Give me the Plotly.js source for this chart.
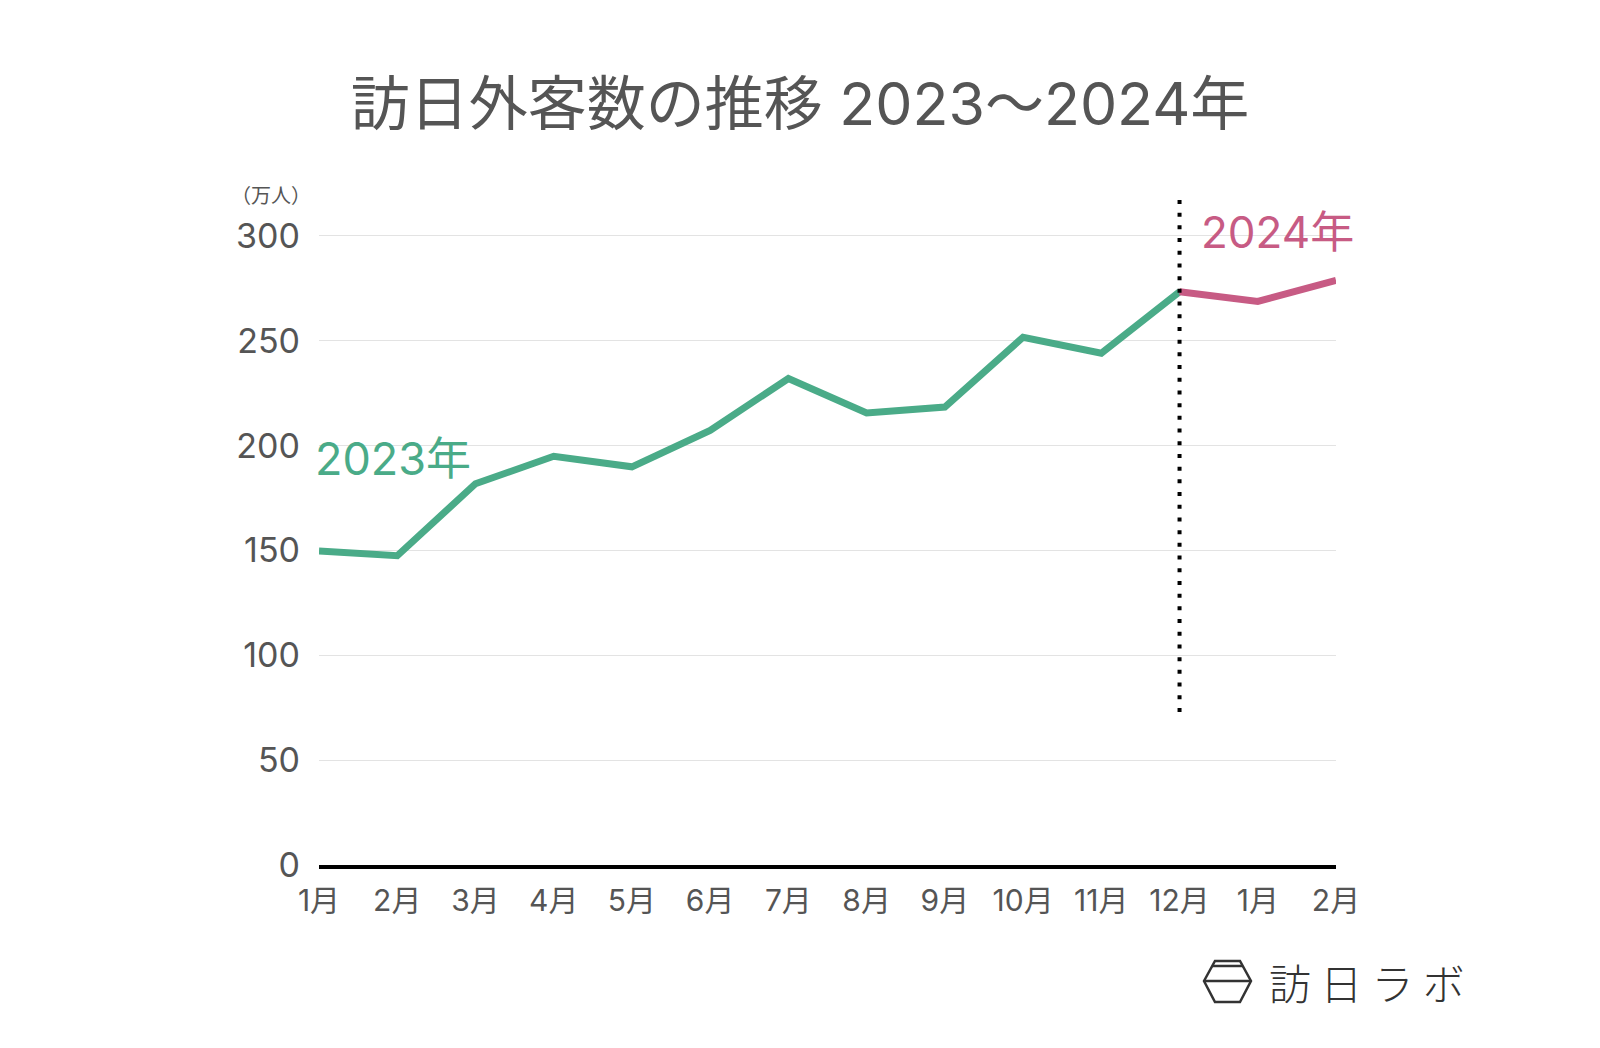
<!DOCTYPE html>
<html>
<head>
<meta charset="utf-8">
<script src="https://cdn.plot.ly/plotly-3.0.1.min.js"></script>
<style>html,body{margin:0;padding:0;background:#fff;}#chart{width:1600px;height:1048px;}</style>
</head>
<body>
<div id="chart"></div>
<script>
// Month tick labels (Jan 2023 .. Feb 2024)
const monthLabels = ["1月","2月","3月","4月","5月","6月","7月","8月","9月","10月","11月","12月","1月","2月"];
// 2023 visitors (万人)
const visitors2023 = [149.7, 147.5, 181.8, 194.9, 189.9, 207.3, 232.0, 215.6, 218.4, 251.7, 244.1, 273.4];
// 2024 visitors (万人), Jan–Feb
const visitors2024 = [268.8, 278.8];
const yTicks = [0, 50, 100, 150, 200, 250, 300];

const FONT = 'Inter, "Noto Sans CJK JP", "Noto Sans", sans-serif';
const CJK = '"Noto Sans CJK JP", sans-serif';
const GREEN = '#4aab88';
const PINK = '#c75b84';
const GRAY = '#555555';

const x2023 = visitors2023.map((_, i) => i);
const last2023 = visitors2023.length - 1;
const x2024 = [last2023].concat(visitors2024.map((_, i) => last2023 + 1 + i));
const y2024 = [visitors2023[last2023]].concat(visitors2024);

const traces = [
  {x: x2023, y: visitors2023, type: 'scatter', mode: 'lines',
   line: {color: GREEN, width: 7}, hoverinfo: 'skip', cliponaxis: false},
  {x: x2024, y: y2024, type: 'scatter', mode: 'lines',
   line: {color: PINK, width: 7}, hoverinfo: 'skip', cliponaxis: false}
];

const layout = {
  width: 1600, height: 1048,
  paper_bgcolor: '#ffffff', plot_bgcolor: '#ffffff',
  margin: {l: 319, r: 264, t: 194, b: 183},
  showlegend: false,
  font: {family: FONT, color: GRAY},
  title: {text: '訪日外客数の推移 2023〜2024年', font: {family: FONT, size: 59, color: GRAY},
          x: 0.5, xanchor: 'center', xref: 'container', y: 0.9, yref: 'container', yanchor: 'middle'},
  xaxis: {
    range: [0, monthLabels.length - 1], tickmode: 'array',
    tickvals: monthLabels.map((_, i) => i), ticktext: monthLabels,
    showgrid: false, zeroline: false, showline: true, linecolor: '#000000', linewidth: 4,
    ticks: '', tickfont: {family: FONT, size: 30, color: GRAY}, ticklabelstandoff: 6, fixedrange: true
  },
  yaxis: {
    range: [0, 320], tickmode: 'array', tickvals: yTicks, ticktext: yTicks.map(String),
    showgrid: true, gridcolor: '#e3e3e3', gridwidth: 1, zeroline: false, showline: false,
    ticks: '', tickfont: {family: FONT, size: 34, color: GRAY}, ticklabelstandoff: 18, fixedrange: true
  },
  shapes: [
    {type: 'line', xref: 'x', yref: 'y', x0: last2023, x1: last2023, y0: 73, y1: 318,
     line: {color: '#000000', width: 4, dash: '4px,8.7px'}},
    // logo hexagon
    {type: 'path', xref: 'paper', yref: 'paper',
     path: 'M 0.8702 -0.1729 L 0.8810 -0.1431 L 0.9056 -0.1431 L 0.9164 -0.1729 L 0.9056 -0.2042 L 0.8810 -0.2042 Z',
     line: {color: '#333333', width: 2.5}},
    {type: 'line', xref: 'paper', yref: 'paper', x0: 0.8783, x1: 0.9083, y0: -0.1505, y1: -0.1505,
     line: {color: '#333333', width: 2.5}},
    {type: 'line', xref: 'paper', yref: 'paper', x0: 0.8702, x1: 0.9164, y0: -0.1729, y1: -0.1729,
     line: {color: '#333333', width: 2.5}}
  ],
  annotations: [
    {text: '（万人）', xref: 'paper', yref: 'paper', x: -0.047, y: 0.999, xanchor: 'center', yanchor: 'middle',
     showarrow: false, font: {family: CJK, size: 20, color: GRAY}},
    {text: '2023年', xref: 'x', yref: 'y', x: 0, y: 194, xanchor: 'left', yanchor: 'middle', xshift: -6,
     showarrow: false, font: {family: FONT, size: 45, color: GREEN}},
    {text: '2024年', xref: 'x', yref: 'y', x: 11.25, y: 302, xanchor: 'left', yanchor: 'middle',
     showarrow: false, font: {family: FONT, size: 44, color: PINK}},
    {text: '訪 日 ラ ボ', xref: 'paper', yref: 'paper', x: 0.9325, y: -0.173, xanchor: 'left', yanchor: 'middle',
     showarrow: false, font: {family: CJK, size: 42, color: '#333333', weight: 300}}
  ]
};

Plotly.newPlot('chart', traces, layout, {displayModeBar: false, staticPlot: true});
</script>
</body>
</html>
